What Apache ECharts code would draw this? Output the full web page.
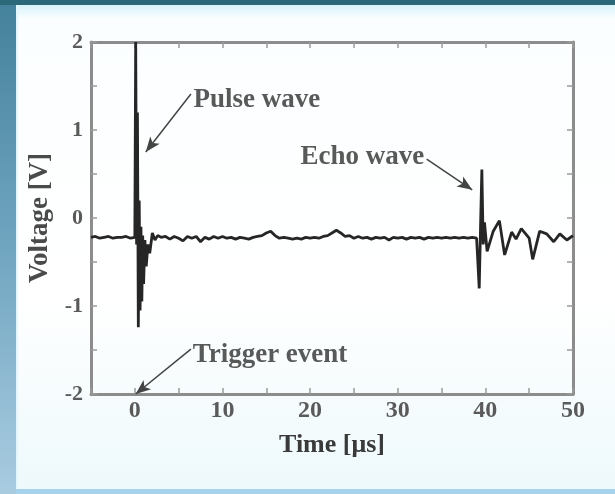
<!DOCTYPE html>
<html>
<head>
<meta charset="utf-8">
<script src="https://cdn.jsdelivr.net/npm/echarts@6/dist/echarts.min.js"></script>
<style>
    html, body { margin: 0; padding: 0; }
    body {
        width: 615px; height: 494px; position: relative; overflow: hidden;
        background: linear-gradient(to bottom, #44819b 0%, #70a5c0 50%, #a9cce1 100%);
    }
    #topbar { position: absolute; left: 0; top: 0; right: 0; height: 5px; background: #2b6878; }
    #panel {
        position: absolute; left: 16px; top: 5px; right: 0; bottom: 5px;
        background: linear-gradient(to bottom, #d8f3fa 0px, #fbfeff 14px, #ffffff 60%, #eef9fc 100%);
        box-shadow: inset 2px 0 0 #e2f7fd;
    }
    #bottombar { position: absolute; left: 16px; right: 0; bottom: 0; height: 5px; background: #a6d2ec; }
    #main { position: absolute; left: 0; top: 0; width: 615px; height: 494px; }
</style>
</head>
<body>
<div id="topbar"></div>
<div id="panel"></div>
<div id="bottombar"></div>
<div id="main"></div>
<script>
(function(){

    // 时间 [μs] 和 电压 [V]，按图读出来的
    var timeUs = [
        -5, -4.5, -4, -3.5, -3, -2.5, -2, -1.5, -1, -0.5,
        0, 0.1, 0.2, 0.3, 0.4, 0.5, 0.6, 0.7, 0.8, 0.9, 1.0, 1.15, 1.3, 1.5, 1.7, 2.0, 2.3, 2.6, 3.0,
        3.5, 4, 4.5, 5, 5.5, 6, 6.5, 7, 7.5, 8, 8.5, 9, 9.5, 10, 10.5, 11, 11.5, 12, 12.5, 13, 13.5,
        14, 14.5, 15, 15.5, 16, 16.5, 17, 17.5, 18, 18.5, 19, 19.5, 20, 20.5, 21, 21.5, 22, 22.5, 23, 23.5,
        24, 24.5, 25, 25.5, 26, 26.5, 27, 27.5, 28, 28.5, 29, 29.5, 30, 30.5, 31, 31.5, 32, 32.5, 33, 33.5,
        34, 34.5, 35, 35.5, 36, 36.5, 37, 37.5, 38, 38.5, 39,
        39.2, 39.3, 39.45, 39.6, 39.75, 39.9, 40.2, 40.9, 41.6, 42.2, 43.0, 43.5, 44.1, 45.0, 45.4,
        46.2, 47.0, 47.8, 48.5, 49.3, 50
    ];
    var voltage = [
        -0.22, -0.21, -0.23, -0.22, -0.21, -0.23, -0.22, -0.22, -0.21, -0.23,
        -0.22, 2.0, -0.3, 1.2, -1.24, 0.2, -1.05, -0.1, -0.95, -0.2, -0.75, -0.25, -0.55, -0.3, -0.4, -0.17, -0.25, -0.2, -0.22,
        -0.21, -0.24, -0.21, -0.23, -0.26, -0.21, -0.23, -0.21, -0.27, -0.22, -0.24, -0.21, -0.23, -0.21, -0.23, -0.22, -0.24, -0.22, -0.23, -0.24, -0.22,
        -0.21, -0.2, -0.17, -0.15, -0.2, -0.23, -0.22, -0.23, -0.24, -0.23, -0.24, -0.22, -0.23, -0.22, -0.23, -0.21, -0.2, -0.17, -0.14, -0.17,
        -0.21, -0.2, -0.23, -0.21, -0.23, -0.22, -0.24, -0.22, -0.23, -0.22, -0.25, -0.22, -0.23, -0.22, -0.24, -0.22, -0.23, -0.22, -0.24, -0.22,
        -0.23, -0.22, -0.23, -0.22, -0.23, -0.22, -0.23, -0.22, -0.23, -0.22, -0.23,
        -0.22, -0.8, -0.1, 0.55, -0.3, -0.05, -0.38, -0.15, -0.03, -0.42, -0.16, -0.24, -0.12, -0.23, -0.47,
        -0.15, -0.18, -0.27, -0.18, -0.25, -0.2
    ];

    // 标注：文字起点 + 箭头起点/终点（数据坐标）
    var noteText  = ['Pulse wave', 'Echo wave', 'Trigger event'];
    var noteAt    = [[6.7, 1.34], [18.9, 0.69], [6.6, -1.56]];
    var arrowFrom = [[6.4, 1.41], [33.3, 0.67], [6.4, -1.49]];
    var arrowTip  = [[1.25, 0.75], [38.5, 0.32], [0.1, -2.0]];

    var xTicks = { min: -5, max: 50, step: 5, labelEvery: 10 };
    var yTicks = { min: -2, max: 2, step: 0.5, labelEvery: 1 };

    var FONT = '"Liberation Serif", "DejaVu Serif", serif';
    var AXIS_C = '#8c8c8c';

    var wave = timeUs.map(function (t, i) { return [t, voltage[i]]; });

    var arrows = arrowFrom.map(function (p, i) {
        return [{ coord: p }, { coord: arrowTip[i] }];
    });

    var notes = noteAt.map(function (p, i) {
        return { value: p, name: noteText[i] };
    });

    function axisBase(opt, withLabel, every) {
        return {
            type: 'value',
            min: opt.min, max: opt.max, interval: opt.step,
            axisLine: { show: true, onZero: false, lineStyle: { color: AXIS_C, width: 3 } },
            axisTick: { show: true, inside: true, length: 6, lineStyle: { color: '#9a9a9a', width: 1.5 } },
            splitLine: { show: false },
            axisLabel: {
                show: withLabel,
                fontFamily: FONT, fontSize: 24, color: '#5a5a5a', fontWeight: 'bold',
                formatter: function (v) {
                    var r = Math.round(v * 100) / 100;
                    return (Math.abs(r % every) < 1e-6) ? String(r) : '';
                }
            }
        };
    }

    var xb = axisBase(xTicks, true, xTicks.labelEvery);
    xb.position = 'bottom';
    xb.axisLabel.margin = 5;
    xb.name = 'Time [\u03bcs]';
    xb.nameLocation = 'middle';
    xb.nameGap = 38;
    xb.nameTextStyle = { fontFamily: FONT, fontSize: 26, color: '#3a3a3a', fontWeight: 'bold' };

    var xt = axisBase(xTicks, false, xTicks.labelEvery);
    xt.position = 'top';

    var yl = axisBase(yTicks, true, yTicks.labelEvery);
    yl.position = 'left';
    yl.axisLabel.margin = 8;
    yl.axisLabel.fontSize = 22;
    yl.name = 'Voltage [V]';
    yl.nameLocation = 'middle';
    yl.nameGap = 24;
    yl.nameTextStyle = { fontFamily: FONT, fontSize: 27, color: '#4a4a4a', fontWeight: 'bold' };

    var yr = axisBase(yTicks, false, yTicks.labelEvery);
    yr.position = 'right';

    var chart = echarts.init(document.getElementById('main'), null, { renderer: 'canvas' });
    chart.setOption({
        backgroundColor: 'transparent',
        animation: false,
        grid: { left: 91, right: 42, top: 42, bottom: 100, containLabel: false },
        xAxis: [xb, xt],
        yAxis: [yl, yr],
        series: [
            {
                type: 'line',
                data: wave,
                symbol: 'none',
                lineStyle: { color: '#262626', width: 2.8 },
                clip: true,
                markLine: {
                    silent: true,
                    symbol: ['none', 'arrow'],
                    symbolSize: [9, 15],
                    label: { show: false },
                    lineStyle: { color: '#444', width: 1.5, type: 'solid' },
                    data: arrows
                }
            },
            {
                type: 'scatter',
                data: notes,
                symbolSize: 0,
                silent: true,
                label: {
                    show: true,
                    position: 'right',
                    distance: 0,
                    formatter: '{b}',
                    fontFamily: FONT, fontSize: 27, color: '#303030', fontWeight: 'bold'
                }
            }
        ]
    });

})();
</script>
</body>
</html>
